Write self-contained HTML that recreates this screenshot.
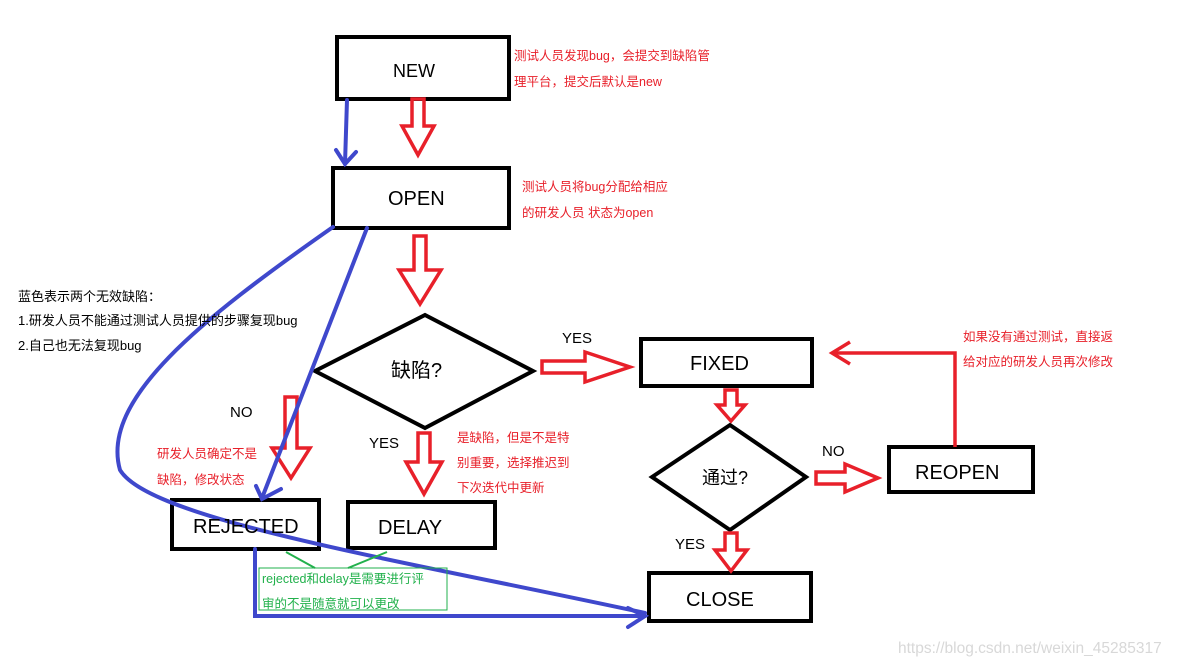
<!DOCTYPE html>
<html><head><meta charset="utf-8"><style>
body{margin:0;background:#fff;}
svg{display:block;font-family:"Liberation Sans","Microsoft YaHei","Noto Sans CJK SC",sans-serif;}
.r{fill:#e8202a;font-size:12.5px}
.k{fill:#000;font-size:15px}
.b{fill:#000;font-size:20px}
</style></head><body>
<svg width="1179" height="666" viewBox="0 0 1179 666">
<g fill="none" stroke="#000" stroke-width="4">
<rect x="337" y="37" width="172" height="62"/>
<rect x="333" y="168" width="176" height="60"/>
<polygon points="315,371 425,315 533,371 425,428"/>
<rect x="641" y="339" width="171" height="47"/>
<polygon points="652,477 730,425 806,477 730,530"/>
<rect x="889" y="447" width="144" height="45"/>
<rect x="649" y="573" width="162" height="48"/>
<rect x="172" y="500" width="147" height="49"/>
<rect x="348" y="502" width="147" height="46"/>
</g>
<g fill="none" stroke="#e8202a" stroke-width="3.5" stroke-linejoin="miter">
<polygon points="412,99 424,99 424,126 434,126 418,155 402,126 412,126"/>
<polygon points="414,236 426,236 426,270 441,270 420,304 399,270 414,270"/>
<polygon points="285,397 297,397 297,448 310,448 291,478 272,448 285,448"/>
<polygon points="418,433 430,433 430,462 442,462 424,494 406,462 418,462"/>
<polygon points="725,390 737,390 737,405 745,405 731,421 717,405 725,405"/>
<polygon points="725,533 737,533 737,550 747,550 731,571 715,550 725,550"/>
<polygon points="542,361 585,361 585,352 630,367 585,382 585,373 542,373"/>
<polygon points="816,472 845,472 845,464 878,478 845,492 845,484 816,484"/>
<polyline points="955,447 955,353 832,353"/>
<polyline points="850,342 832,353 850,364"/>
</g>
<g fill="none" stroke="#3f48cc" stroke-width="4" stroke-linecap="round">
<line x1="347" y1="100" x2="345" y2="164"/>
<polyline points="336,150 345,164 356,152"/>
<path d="M333,227 C200,320 100,400 120,470 C150,520 400,560 645,613"/>
<line x1="367" y1="228" x2="262" y2="498"/>
<polyline points="256,486 262,499 281,489"/>
<polyline points="255,549 255,616 645,616"/>
<polyline points="628,608 645,616 628,627"/>
</g>
<g stroke="#22b14c" stroke-width="2" fill="none">
<line x1="286" y1="552" x2="315" y2="568"/>
<line x1="387" y1="552" x2="348" y2="568"/>
<rect x="259" y="568" width="188" height="42" stroke-width="1"/>
</g>
<text x="393" y="77" class="k" style="font-size:18px">NEW</text>
<text x="388" y="205" class="b">OPEN</text>
<text x="391" y="377" class="b">缺陷?</text>
<text x="690" y="370" class="b">FIXED</text>
<text x="702" y="484" class="k" style="font-size:18px">通过?</text>
<text x="915" y="479" class="b">REOPEN</text>
<text x="686" y="606" class="b">CLOSE</text>
<text x="193" y="533" class="b">REJECTED</text>
<text x="378" y="534" class="b">DELAY</text>
<text x="562" y="343" class="k">YES</text>
<text x="230" y="417" class="k">NO</text>
<text x="369" y="448" class="k">YES</text>
<text x="822" y="456" class="k">NO</text>
<text x="675" y="549" class="k">YES</text>
<text x="514" y="60" class="r">测试人员发现bug，会提交到缺陷管</text>
<text x="514" y="86" class="r">理平台，提交后默认是new</text>
<text x="522" y="191" class="r">测试人员将bug分配给相应</text>
<text x="522" y="217" class="r">的研发人员 状态为open</text>
<text x="963" y="341" class="r">如果没有通过测试，直接返</text>
<text x="963" y="366" class="r">给对应的研发人员再次修改</text>
<text x="157" y="458" class="r">研发人员确定不是</text>
<text x="157" y="484" class="r">缺陷，修改状态</text>
<text x="457" y="442" class="r">是缺陷，但是不是特</text>
<text x="457" y="467" class="r">别重要，选择推迟到</text>
<text x="457" y="492" class="r">下次迭代中更新</text>
<text x="18" y="301" style="font-size:13px">蓝色表示两个无效缺陷：</text>
<text x="18" y="325" style="font-size:13px">1.研发人员不能通过测试人员提供的步骤复现bug</text>
<text x="18" y="350" style="font-size:13px">2.自己也无法复现bug</text>
<text x="262" y="583" style="font-size:12.5px;fill:#22b14c">rejected和delay是需要进行评</text>
<text x="262" y="608" style="font-size:12.5px;fill:#22b14c">审的不是随意就可以更改</text>
<text x="898" y="653" style="font-size:15.5px;fill:#d8d8d8">https://blog.csdn.net/weixin_45285317</text>
</svg>
</body></html>
